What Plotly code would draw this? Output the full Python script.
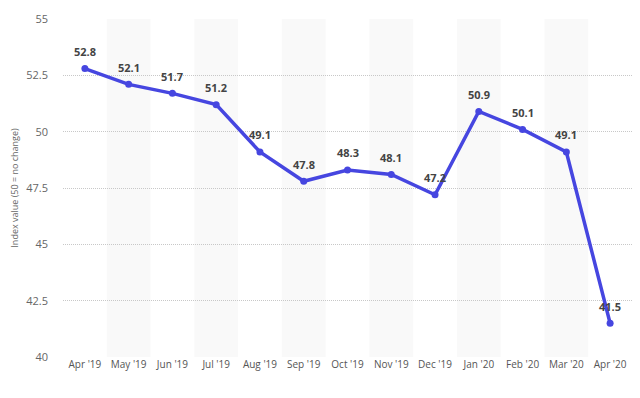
import plotly.graph_objects as go

months = ["Apr '19", "May '19", "Jun '19", "Jul '19", "Aug '19", "Sep '19", "Oct '19",
          "Nov '19", "Dec '19", "Jan '20", "Feb '20", "Mar '20", "Apr '20"]
values = [52.8, 52.1, 51.7, 51.2, 49.1, 47.8, 48.3, 48.1, 47.2, 50.9, 50.1, 49.1, 41.5]
y_ticks = [40, 42.5, 45, 47.5, 50, 52.5, 55]
y_tick_labels = ["40", "42.5", "45", "47.5", "50", "52.5", "55"]

line_color = "#4646e0"
xs = list(range(len(months)))
fig = go.Figure()
fig.add_trace(go.Scatter(
    x=xs, y=values,
    mode="lines+markers",
    line=dict(color=line_color, width=3.5),
    marker=dict(color=line_color, size=7),
    cliponaxis=False,
    hoverinfo="skip",
))

annotations = [dict(x=x, y=v, xref="x", yref="y", text=f"{v:.1f}", showarrow=False,
                    yshift=17, font=dict(family="Open Sans, sans-serif", size=11,
                                         color="#444444", weight="bold"))
               for x, v in zip(xs, values)]

shapes = []
for i in range(1, len(months), 2):
    shapes.append(dict(type="rect", xref="x", yref="paper", x0=i - 0.5, x1=i + 0.5,
                       y0=0, y1=1, fillcolor="#f9f9f9", line=dict(width=0), layer="below"))

# page body has an 8px default margin, so the figure is sized to fit inside it
fig.update_layout(
    width=624, height=382,
    margin=dict(l=55, r=0, t=11, b=33),
    paper_bgcolor="white", plot_bgcolor="white",
    showlegend=False,
    shapes=shapes,
    annotations=annotations,
    font=dict(family="Open Sans, sans-serif", color="#666666"),
    xaxis=dict(
        tickmode="array", tickvals=xs, ticktext=months, automargin=False,
        range=[-0.5, len(months) - 0.5], showgrid=False, zeroline=False,
        showline=False, ticks="", tickfont=dict(size=10, color="#555555"),
    ),
    yaxis=dict(
        range=[40, 55], tickmode="array", tickvals=y_ticks, ticktext=y_tick_labels,
        automargin=False,
        showgrid=True, gridcolor="#c8c8c8", griddash="1px,1px", gridwidth=1,
        zeroline=False, showline=False, ticks="", ticklabelstandoff=14,
        tickfont=dict(size=11, color="#666666"),
        title=dict(text="Index value (50 = no change)", font=dict(size=9, color="#666666"), standoff=14),
    ),
)
fig.write_html("out.html")
